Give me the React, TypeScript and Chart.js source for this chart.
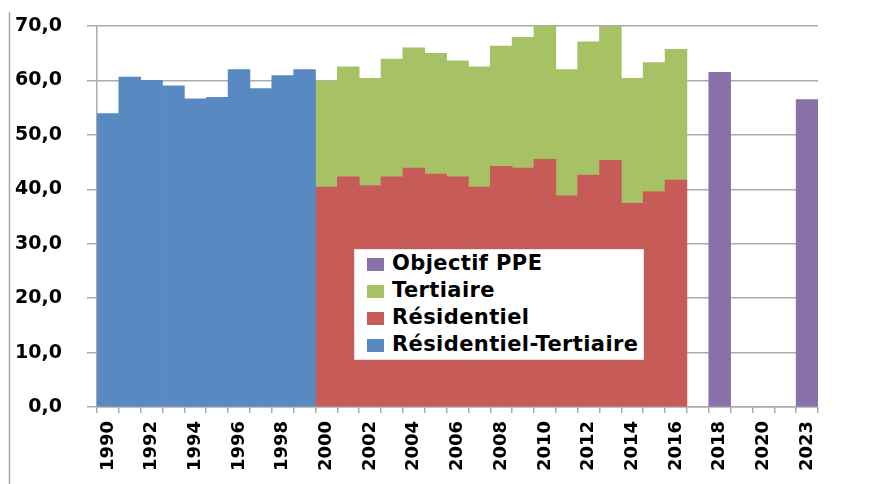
import React, { useEffect, useRef } from 'react';
import { Chart, registerables } from 'chart.js';

Chart.register(...registerables);

const categories = [
  '1990', '1991', '1992', '1993', '1994', '1995', '1996', '1997', '1998', '1999',
  '2000', '2001', '2002', '2003', '2004', '2005', '2006', '2007', '2008', '2009',
  '2010', '2011', '2012', '2013', '2014', '2015', '2016',
  '2017', '2018', '2019', '2020', '2022', '2023',
];

// 1990-1999
const residentielTertiaireValues = [53.9, 60.6, 60.0, 59.0, 56.6, 56.9, 62.0, 58.5, 60.9, 62.0];
// 2000-2016
const residentielValues = [40.4, 42.3, 40.7, 42.3, 43.9, 42.8, 42.3, 40.4, 44.2, 43.9, 45.5, 38.8, 42.6, 45.3, 37.4, 39.6, 41.7];
const tertiaireValues = [19.5, 20.2, 19.7, 21.6, 22.1, 22.2, 21.3, 22.1, 22.1, 24.0, 24.5, 23.2, 24.5, 24.7, 23.0, 23.7, 24.0];
// Objectif PPE: 2018 and 2023
const objectifYears = ['2018', '2023'];
const objectifValues = [61.5, 56.5];

const yTicks = [0, 10, 20, 30, 40, 50, 60, 70];

const legendItems = [
  { label: 'Objectif PPE', color: '#8A70A9' },
  { label: 'Tertiaire', color: '#A6C264' },
  { label: 'Résidentiel', color: '#C75B58' },
  { label: 'Résidentiel-Tertiaire', color: '#5889C1' },
];

function placeFrom(startYear: string, values: number[]) {
  const start = categories.indexOf(startYear);
  return categories.map((_, i) => (i >= start && i < start + values.length ? values[i - start] : null));
}

function placeAt(years: string[], values: number[]) {
  return categories.map((c) => {
    const k = years.indexOf(c);
    return k >= 0 ? values[k] : null;
  });
}

const frameLine = {
  id: 'frameLine',
  beforeDraw(chart: any) {
    const ctx = chart.ctx;
    ctx.save();
    ctx.strokeStyle = '#a6a6a6';
    ctx.lineWidth = 1.5;
    ctx.beginPath();
    ctx.moveTo(9.5, 12);
    ctx.lineTo(9.5, 484);
    ctx.stroke();
    ctx.restore();
  },
};

export default function App() {
  const canvasRef = useRef<HTMLCanvasElement | null>(null);

  useEffect(() => {
    document.body.style.margin = '0';
    const canvas = canvasRef.current;
    if (!canvas) return;
    const gridColor = '#ababab';
    const chart = new Chart(canvas, {
      type: 'bar',
      data: {
        labels: categories,
        datasets: [
          {
            label: 'Résidentiel-Tertiaire',
            data: placeFrom('1990', residentielTertiaireValues),
            backgroundColor: legendItems[3].color,
          },
          {
            label: 'Résidentiel',
            data: placeFrom('2000', residentielValues),
            backgroundColor: legendItems[2].color,
          },
          {
            label: 'Tertiaire',
            data: placeFrom('2000', tertiaireValues),
            backgroundColor: legendItems[1].color,
          },
          {
            label: 'Objectif PPE',
            data: placeAt(objectifYears, objectifValues),
            backgroundColor: legendItems[0].color,
          },
        ] as any,
      },
      options: {
        responsive: false,
        animation: false,
        devicePixelRatio: 1,
        layout: { padding: { left: 0, top: 26, right: 52, bottom: 0 } },
        datasets: {
          bar: { barPercentage: 1, categoryPercentage: 1, borderWidth: 0 },
        } as any,
        plugins: {
          legend: { display: false },
          tooltip: { enabled: false },
        },
        scales: {
          x: {
            stacked: true,
            offset: true,
            grid: {
              display: true,
              drawOnChartArea: false,
              drawTicks: true,
              tickLength: 6,
              offset: true,
              color: gridColor,
              lineWidth: 1.5,
            },
            border: { display: true, color: gridColor, width: 1.5 },
            ticks: {
              autoSkip: false,
              maxRotation: 90,
              minRotation: 90,
              padding: 8,
              color: '#000',
              font: { family: 'DejaVu Sans', size: 18, weight: 'bold' },
              callback: (_v: any, i: number) => (i % 2 === 0 ? categories[i] : ''),
            },
            afterFit: (s: any) => {
              s.height = 77;
            },
          },
          y: {
            stacked: true,
            min: 0,
            max: 70,
            afterBuildTicks: (s: any) => {
              s.ticks = yTicks.map((v) => ({ value: v }));
            },
            grid: {
              color: gridColor,
              lineWidth: 1.5,
              tickLength: 10,
            },
            border: { display: true, color: gridColor, width: 1.5 },
            ticks: {
              padding: 25,
              color: '#000',
              font: { family: 'DejaVu Sans', size: 19, weight: 'bold' },
              callback: (v: any) => Number(v).toFixed(1).replace('.', ','),
            },
            afterFit: (s: any) => {
              s.width = 97;
              s.paddingTop = 0;
              s.paddingBottom = 0;
            },
          },
        },
      } as any,
      plugins: [frameLine],
    });
    return () => chart.destroy();
  }, []);

  return (
    <div style={{ position: 'relative', width: 870, height: 484, background: '#fff' }}>
      <canvas ref={canvasRef} width={870} height={484} style={{ position: 'absolute', left: 0, top: 0 }} />
      <div
        style={{
          position: 'absolute',
          left: 354,
          top: 249,
          width: 290,
          height: 111,
          boxSizing: 'border-box',
          background: '#fff',
          border: '1px solid #e4e4e4',
          paddingLeft: 12,
          fontFamily: 'DejaVu Sans',
          fontWeight: 'bold',
          fontSize: 21,
          letterSpacing: '0.4px',
          lineHeight: '27px',
          color: '#000',
        }}
      >
        {legendItems.map((it) => (
          <div key={it.label} style={{ display: 'flex', alignItems: 'center', height: 27, whiteSpace: 'nowrap' }}>
            <span style={{ display: 'inline-block', width: 17, height: 13, background: it.color, marginRight: 8, marginTop: 2, flexShrink: 0 }} />
            <span>{it.label}</span>
          </div>
        ))}
      </div>
    </div>
  );
}
